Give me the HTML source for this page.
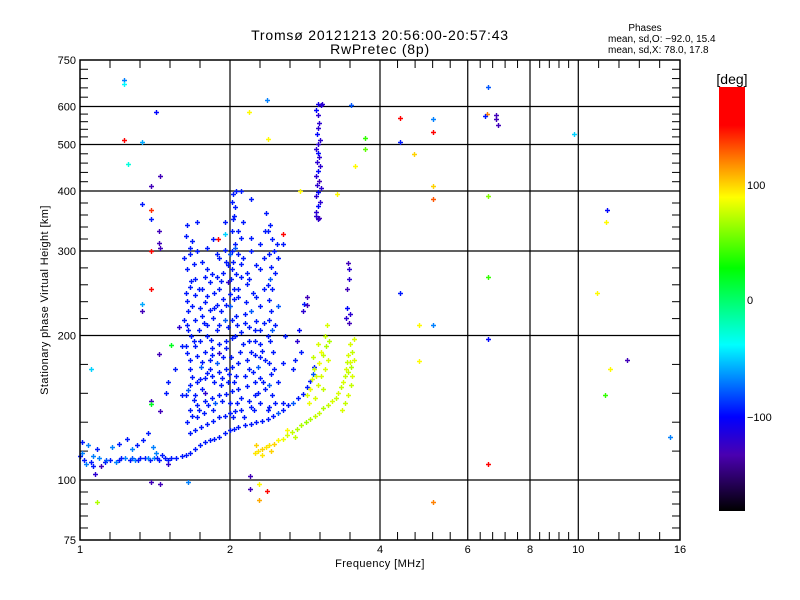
<!DOCTYPE html>
<html><head><meta charset="utf-8"><style>
html,body{margin:0;padding:0;background:#fff;}
svg{display:block;font-family:"Liberation Sans",sans-serif;}
</style></head><body>
<svg id="chart" width="800" height="600" viewBox="0 0 800 600">
<defs>
<linearGradient id="cbar" x1="0" y1="0" x2="0" y2="1">
<stop offset="0" stop-color="#ff0000"/><stop offset="0.09" stop-color="#ff0000"/>
<stop offset="0.184" stop-color="#ff9000"/><stop offset="0.26" stop-color="#ffff00"/>
<stop offset="0.427" stop-color="#00ff00"/><stop offset="0.608" stop-color="#00ffff"/>
<stop offset="0.778" stop-color="#0000ff"/><stop offset="0.868" stop-color="#4a00b0"/>
<stop offset="1" stop-color="#000000"/>
</linearGradient>
</defs>
<text x="380" y="40" font-size="14" letter-spacing="0.8" text-anchor="middle">Tromsø 20121213 20:56:00-20:57:43</text>
<text x="380" y="54" font-size="14" letter-spacing="0.8" text-anchor="middle">RwPretec (8p)</text>
<g font-size="10">
<text x="645" y="31" text-anchor="middle">Phases</text>
<text x="608" y="42">mean, sd,O: −92.0, 15.4</text>
<text x="608" y="53">mean, sd,X:  78.0, 17.8</text>
</g>
<g id="grid"></g>
<g id="ticks"></g>
<g id="points"></g>
<rect x="80" y="60" width="600" height="480" fill="none" stroke="#000" stroke-width="1.5"/>
<text x="380" y="567" font-size="11" letter-spacing="0.4" text-anchor="middle">Frequency [MHz]</text>
<text transform="translate(48,300) rotate(-90)" font-size="11" letter-spacing="0.4" text-anchor="middle">Stationary phase Virtual Height [km]</text>
<g>
<rect x="719" y="87" width="26" height="424" fill="url(#cbar)"/>
<text x="732" y="84" font-size="14" text-anchor="middle">[deg]</text>
<text x="747" y="189" font-size="11">100</text>
<text x="747" y="304" font-size="11">0</text>
<text x="747" y="421" font-size="11">−100</text>
</g>
</svg>
<script>
const xTicks=[1,2,4,6,8,10,16];
const xGrid=[2,4,6,8,10];
const yTicks=[75,100,200,300,400,500,600,750];
const yGrid=[100,200,300,400,500,600];
const oLow=[[1.00,112,-95],[1.01,114,-70],[1.02,110,-95],[1.03,108,-70],[1.05,109,-95],[1.06,107,-95],[1.09,111,-70],[1.12,109,-95],[1.15,110,-95],[1.18,109,-70],[1.2,110,-95],[1.23,111,-70],[1.26,110,-95],[1.29,110,-70],[1.32,111,-95],[1.35,111,-95],[1.38,110,-95],[1.41,111,-70],[1.44,110,-95],[1.48,111,-95],[1.52,111,-95],[1.56,111,-95],[1.6,112,-95],[1.63,113,-95],
[1.13,110,-80],[1.21,111,-95],[1.27,111,-80],[1.31,110,-95],[1.37,111,-70],[1.43,111,-95],[1.5,110,-95]];
const oLowScatter=[[1.01,120,-95],[1.04,118,-70],[1.06,112,-70],[1.08,116,-95],[1.1,107,-130],[1.16,117,-70],[1.2,119,-95],[1.24,122,-95],[1.27,116,-70],[1.3,118,-95],[1.34,121,-95],[1.37,125,-95],[1.4,117,-70],[1.42,114,-70],[1.46,113,-95],[1.5,108,-120]];
const oRise=[[1.66,114,-95],[1.7,116,-95],[1.74,118,-95],[1.78,120,-95],[1.82,121,-95],[1.86,122,-95],[1.9,123,-95],[1.95,125,-95],[2.0,127,-95],[2.04,128,-95],[2.08,129,-95],[2.14,130,-95],[2.2,131,-95],[2.26,132,-95],[2.32,133,-95],[2.38,134,-95],[2.44,136,-95],[2.5,138,-80],[2.56,140,-95],[2.62,143,-95],[2.68,145,-80],[2.74,148,-95],[2.8,151,-95],[2.86,156,-95],[2.9,161,-95],[2.93,166,-80],[2.95,172,-95]];
const bands=[[1.66,125,-95],[1.7,127,-95],[1.75,129,-95],[1.8,131,-95],[1.85,133,-95],[1.9,135,-95],[1.95,136,-95],[2.0,138,-95],[2.05,139,-95],[2.1,140,-95],[2.2,142,-95],[2.3,145,-95],
[1.66,140,-95],[1.72,143,-95],[1.78,146,-95],[1.84,148,-95],[1.9,150,-95],[1.96,151,-95],[2.02,153,-95],[2.08,155,-95],[2.16,157,-95],[2.24,160,-95],[2.3,163,-95],
[1.66,158,-95],[1.72,160,-95],[1.78,163,-95],[1.84,165,-95],[1.9,168,-95],[1.96,170,-95],[2.02,172,-95],[2.08,175,-95],[2.16,178,-95],[2.24,182,-95],[2.32,186,-95],
[1.66,178,-95],[1.72,181,-95],[1.78,185,-95],[1.84,188,-95],[1.9,192,-95],[1.96,195,-95],[2.02,198,-95],[2.1,203,-95],[2.18,208,-95],[2.26,214,-95],
[1.64,210,-95],[1.7,215,-95],[1.76,220,-95],[1.82,226,-95],[1.88,232,-95],[1.94,238,-95],[2.0,244,-95],[2.08,250,-95],[2.16,256,-95],
[1.64,236,-95],[1.7,243,-95],[1.76,250,-95],[1.82,258,-95],[1.88,265,-95],[1.94,270,-95],[2.02,275,-95],[2.1,282,-95]];
const columns=[[1.63,150,-95],[1.66,170,-95],[1.63,190,-95],[1.67,200,-95],[1.62,215,-95],[1.65,225,-95],[1.63,245,-95],[1.67,260,-95],[1.64,275,-95],[1.62,290,-95],[1.66,305,-95],[1.63,322,-95],[1.64,340,-95],
[2.0,145,-95],[2.04,160,-95],[2.01,180,-95],[2.05,200,-95],[2.02,215,-95],[2.0,230,-80],[2.04,250,-95],[2.01,262,-95],[2.03,285,-95],[2.0,295,-80],[2.05,310,-95],[2.02,330,-95],[2.04,355,-95],[2.02,380,-95],[2.03,395,-95],[2.06,400,-95],[2.1,400,-95],
[2.4,142,-95],[2.43,150,-95],[2.4,158,-80],[2.42,166,-95],[2.4,175,-95],[2.44,185,-95],[2.41,195,-95],[2.43,205,-80],[2.4,215,-95],[2.42,225,-95],[2.4,237,-95],[2.43,250,-95],[2.41,262,-80],[2.42,278,-95],[2.4,295,-95],[2.43,318,-95],[2.41,340,-95]];
const fill=[[1.72,135,-95],[1.78,152,-120],[1.85,140,-95],[1.92,158,-95],[1.75,172,-80],[1.82,178,-95],[1.9,184,-120],[1.98,160,-95],[1.88,205,-95],[1.8,200,-95],[1.74,195,-95],[1.95,215,-80],[1.85,218,-95],[1.78,235,-95],[1.9,250,-95],[1.98,258,-120],[2.1,265,-95],[2.15,235,-95],[2.2,225,-80],[2.25,195,-95],[2.3,205,-95],[2.12,192,-95],[2.18,170,-95],[2.28,172,-80],[2.35,178,-95],[2.1,148,-95],[2.25,150,-95],[2.35,155,-95],[1.7,262,-95],[1.8,275,-95],[1.9,290,-95],[1.95,302,-95],[2.05,305,-80],[2.12,290,-95],[2.2,300,-95],[2.3,275,-95],[2.1,320,-95],[1.85,318,-95],[1.72,300,-95],[2.5,160,-95],[2.55,175,-95],[2.58,200,-95],[2.5,230,-80],[2.5,290,-95],[2.48,310,-95],[2.55,145,-95],[1.55,170,-95],[1.5,160,-95],[1.6,190,-95],[1.58,208,-120],[1.6,150,-95],[1.95,345,-95],[2.03,350,-95],[1.72,345,-95],[2.12,345,-95],
[1.7,150,-95],[1.76,155,-95],[1.82,170,-95],[1.88,175,-80],[1.94,180,-95],[1.7,190,-95],[1.8,210,-95],[1.92,225,-95],[1.74,228,-95],[2.06,220,-95],[2.14,212,-95],[2.2,185,-95],[2.3,192,-95],[2.26,240,-95],[2.34,250,-95],[2.16,270,-95],[1.86,245,-95],[1.98,280,-95],[2.08,296,-95],[1.76,285,-95]];
const fill2=[[1.64,132,-95],[1.68,136,-95],[1.69,147,-95],[1.65,154,-80],[1.68,164,-95],[1.64,184,-95],[1.69,195,-95],[1.65,205,-95],[1.68,230,-95],[1.66,252,-95],[1.69,282,-95],[1.66,296,-95],[1.68,315,-95],
[1.73,140,-95],[1.77,138,-95],[1.81,143,-95],[1.87,145,-80],[1.93,146,-95],[1.74,162,-95],[1.8,167,-95],[1.86,160,-95],[1.93,163,-95],[1.99,166,-95],[1.76,176,-95],[1.84,182,-95],[1.96,188,-95],[1.73,205,-95],[1.83,196,-95],[1.9,210,-95],[1.98,208,-95],[1.77,212,-95],[1.86,228,-95],[1.96,232,-95],[1.73,250,-95],[1.8,242,-95],[1.84,268,-95],[1.92,260,-95],[1.78,265,-95],[1.96,285,-95],[1.88,295,-95],[1.8,305,-95],
[2.03,135,-95],[2.07,145,-95],[2.06,165,-95],[2.09,185,-95],[2.07,210,-95],[2.04,238,-95],[2.08,240,-95],[2.06,268,-95],[2.02,300,-95],[2.08,330,-95],[2.05,370,-95],
[2.13,135,-95],[2.18,146,-95],[2.23,140,-95],[2.28,152,-95],[2.33,160,-95],[2.14,165,-95],[2.22,168,-95],[2.3,180,-95],[2.18,195,-95],[2.24,205,-95],[2.34,212,-95],[2.14,222,-95],[2.22,245,-95],[2.3,230,-95],[2.18,262,-95],[2.26,280,-95],[2.34,290,-95],[2.2,320,-95],[2.3,310,-95],
[2.38,140,-95],[2.46,145,-95],[2.45,170,-95],[2.38,200,-95],[2.46,210,-95],[2.38,255,-95],[2.46,270,-95],[2.45,300,-95],[2.38,330,-95]];
const fLayer=[[3.0,350,-120],[2.98,355,-120],[3.02,352,-130],[2.97,362,-120],[3.0,372,-100],[3.03,380,-120],[2.98,390,-120],[3.01,398,-100],[3.04,405,-120],[2.99,412,-120],[3.02,420,-130],[2.97,430,-120],[3.0,440,-100],[3.03,450,-120],[2.99,460,-120],[3.02,470,-120],[3.0,480,-100],[2.98,490,-120],[3.01,500,-120],[3.03,512,-120],[2.99,525,-100],[3.0,540,-120],[3.02,555,-120],[3.0,575,-120],[2.98,590,-100],[3.0,608,-110],[3.06,608,-120]];
const oUpper=[[2.75,205,-100],[2.73,195,-120],[2.78,185,-95],[2.7,178,-95],[2.8,225,-120],[2.82,233,-95],[2.86,240,-130],[2.86,232,-130],[2.68,170,-95],
[3.45,283,-130],[3.47,262,-120],[3.44,250,-130],[3.42,218,-120],[3.46,212,-130],[3.48,222,-120],[3.44,228,-100],[3.47,275,-120]];
const xTrace=[[2.25,114,95],[2.28,115,95],[2.32,116,100],[2.36,117,95],[2.4,118,95],[2.45,119,100],[2.5,121,90],[2.55,122,85],[2.6,124,80],[2.66,126,75],[2.72,128,70],[2.78,130,70],[2.84,132,65],[2.9,134,70],[2.96,136,75],[3.02,138,75],[3.08,141,70],[3.14,143,75],[3.2,146,80],[3.26,148,75],[3.3,152,80],[3.34,156,75],[3.37,160,80],[3.4,165,75],[3.42,170,80],[3.44,176,75],[3.45,182,80],
[2.26,118,100],[2.32,113,95],[2.42,115,100],[2.6,127,90],[2.7,123,75]];
const xBlob=[[2.85,150,80],[2.9,155,85],[2.92,162,80],[2.95,170,75],[3.0,158,80],[3.02,175,85],[3.05,165,80],[3.08,182,75],[3.1,170,80],[3.12,190,70],[3.15,178,80],[3.1,200,75],[3.13,210,80],[3.16,195,70],[2.88,145,85],[2.96,148,80],[3.05,185,85],[3.0,192,80],[2.93,180,75],[2.98,165,80],[3.07,155,75],
[3.35,140,80],[3.4,145,75],[3.45,150,80],[3.5,158,75],[3.52,165,80],[3.5,172,70],[3.55,178,80],[3.52,185,75],[3.48,192,80],[3.55,197,80],[3.45,168,75],[3.48,176,80]];
const outliers=[[1.225,682,-70],[1.225,668,-40],[1.225,512,170],[1.25,455,-30],[1.33,505,-60],[1.42,585,-100],[1.39,410,-130],[1.45,430,-130],[1.33,375,-95],[1.39,366,140],[1.39,350,-95],[1.44,330,-130],[1.44,312,-130],[1.45,304,-130],[1.39,300,150],[1.39,250,150],[1.33,233,-60],[1.33,225,-130],[1.05,170,-50],[1.44,183,-130],[1.39,146,-130],[1.39,144,20],[1.45,139,-130],[1.49,152,-95],[1.52,191,20],[1.89,318,150],[1.95,325,-50],[2.55,325,150],[2.55,310,-95],[2.35,330,-95],[2.36,360,-95],[2.2,385,-95],
[2.37,620,-70],[2.18,585,90],[2.38,513,90],[3.5,605,-80],[3.73,515,40],[3.74,490,50],[3.56,450,90],[2.76,400,90],[3.28,395,90],[3.05,605,-120],
[4.38,568,170],[5.1,565,-70],[5.1,530,170],[4.38,505,-95],[4.67,478,100],[5.1,410,100],[5.1,385,130],[6.6,660,-80],[6.55,580,120],[6.5,573,-95],[6.85,575,-130],[6.85,565,-130],[6.9,550,-130],[9.8,525,-50],[6.6,390,60],[11.4,365,-100],[11.35,345,90],[6.6,265,40],[10.9,245,90],[4.38,245,-95],[4.8,210,90],[5.1,210,-70],[6.6,197,-100],[4.8,177,90],[12.5,178,-130],[11.6,170,90],[11.3,150,40],[15.3,123,-70],[6.6,108,170],[5.1,90,120],
[1.08,90,70],[1.39,99,-130],[1.45,98,-130],[1.65,99,-70],[2.19,102,-130],[2.19,96,-130],[2.29,98,90],[2.29,91,110],[2.37,95,150],[1.07,103,-120]];
const groups={oLow,oLowScatter,oRise,bands,columns,fill,fill2,fLayer,oUpper,xTrace,xBlob,outliers};

const NS='http://www.w3.org/2000/svg';
function X(f){return 80+150*Math.log2(f);}
function Y(h){return 480-480*Math.log10(h/100);}
const cStops=[[-182,[0,0,0]],[-134,[74,0,176]],[-101,[0,0,255]],[-39,[0,255,255]],[28,[0,255,0]],[89,[255,255,0]],[116,[255,144,0]],[151,[255,0,0]],[185,[255,0,0]]];
function color(p){
  for(let i=0;i<cStops.length-1;i++){
    const a=cStops[i],b=cStops[i+1];
    if(p<=b[0]){const t=Math.max(0,(p-a[0])/(b[0]-a[0]));
      const c=a[1].map((v,k)=>Math.round(v+(b[1][k]-v)*t));return 'rgb('+c.join(',')+')';}
  }
  return 'rgb(255,0,0)';
}
function mk(tag,attrs,parent){const e=document.createElementNS(NS,tag);for(const k in attrs)e.setAttribute(k,attrs[k]);parent.appendChild(e);return e;}
const grid=document.getElementById('grid');
xGrid.forEach(f=>{const l=mk('line',{x1:X(f),x2:X(f),y1:60,y2:540,stroke:'#000','stroke-width':1.2},grid);

});
yGrid.forEach(h=>{const l=mk('line',{x1:80,x2:680,y1:Y(h),y2:Y(h),stroke:'#000','stroke-width':1.2},grid);

});
const tk=document.getElementById('ticks');
for(let i=0;i<xTicks.length-1;i++){const a=X(xTicks[i]),b=X(xTicks[i+1]);
  for(let j=1;j<5;j++){const x=a+(b-a)*j/5;
    const t1=mk('line',{x1:x,x2:x,y1:540,y2:532,stroke:'#000'},tk);
    
    
    const t2=mk('line',{x1:x,x2:x,y1:60,y2:68,stroke:'#000'},tk);
    
    }}
xTicks.forEach(f=>{const t=mk('text',{x:X(f),y:553,'font-size':11,'text-anchor':'middle'},tk);t.textContent=f;

});
for(let i=0;i<yTicks.length-1;i++){const a=Y(yTicks[i]),b=Y(yTicks[i+1]);
  for(let j=1;j<5;j++){const y=a+(b-a)*j/5;
    const t1=mk('line',{x1:80,x2:88,y1:y,y2:y,stroke:'#000'},tk);
    
    
    const t2=mk('line',{x1:672,x2:680,y1:y,y2:y,stroke:'#000'},tk);
    
    }}
yTicks.forEach(h=>{const t=mk('text',{x:76,y:Y(h)+4,'font-size':11,'text-anchor':'end'},tk);t.textContent=h;

});
const pts=document.getElementById('points');
Object.keys(groups).forEach(name=>{
  groups[name].forEach(d=>{
    const x=Math.round(X(d[0])),y=Math.round(Y(d[1]));
    const c=color(d[2]);
    const g=mk('path',{d:'M'+(x-2)+' '+(y+0.5)+'h5M'+(x+0.5)+' '+(y-2)+'v5',stroke:c,'stroke-width':1.4,fill:'none'},pts);
    
    
  });
});
</script>
</body></html>
